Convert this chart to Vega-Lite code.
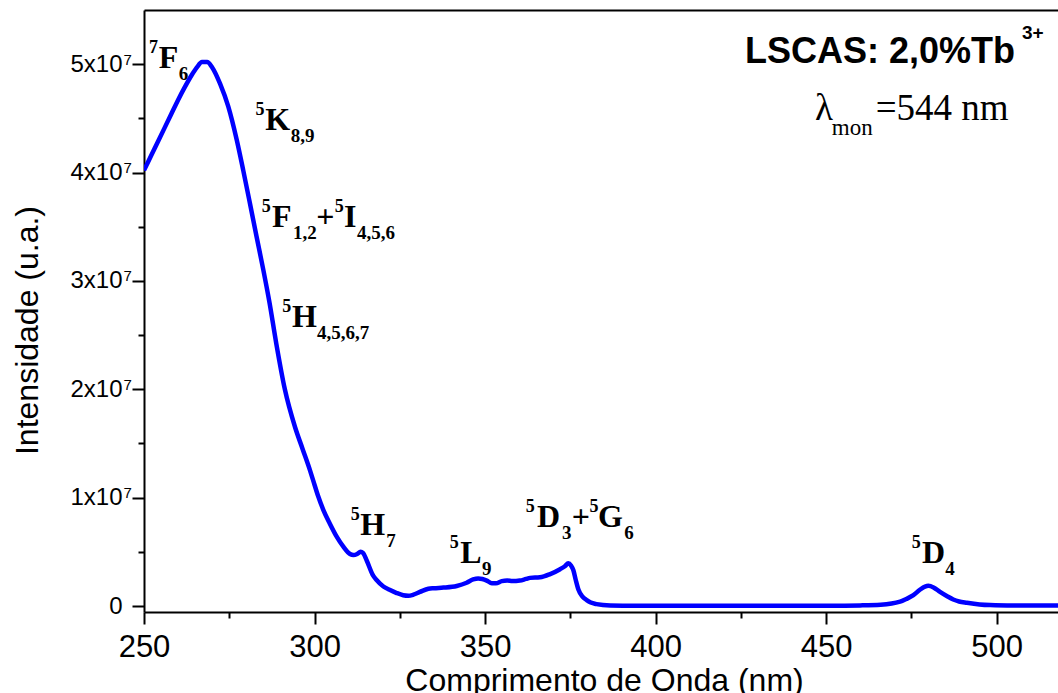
{
  "$schema": "https://vega.github.io/schema/vega-lite/v6.json",
  "width": 914,
  "height": 602,
  "autosize": "none",
  "padding": {"left": 144, "top": 10, "right": 0, "bottom": 81},
  "background": "white",
  "view": {"stroke": null},
  "config": {
    "axis": {
      "grid": false,
      "domainColor": "black",
      "domainWidth": 2,
      "tickColor": "black",
      "tickWidth": 2,
      "labelColor": "black",
      "titleColor": "black",
      "labelFont": "Liberation Sans",
      "titleFont": "Liberation Sans",
      "titleFontWeight": "normal",
      "labelFlush": false,
      "labelOverlap": false
    }
  },
  "datasets": {
    "curve": [
      {"wavelength": 250, "intensity": 40200000},
      {"wavelength": 252, "intensity": 41500000},
      {"wavelength": 254, "intensity": 42800000},
      {"wavelength": 256, "intensity": 44100000},
      {"wavelength": 258, "intensity": 45400000},
      {"wavelength": 260, "intensity": 46700000},
      {"wavelength": 262, "intensity": 47900000},
      {"wavelength": 264, "intensity": 49000000},
      {"wavelength": 265.5, "intensity": 49700000},
      {"wavelength": 267.0, "intensity": 50200000},
      {"wavelength": 268.5, "intensity": 50200000},
      {"wavelength": 270.0, "intensity": 49700000},
      {"wavelength": 272.3, "intensity": 48200000},
      {"wavelength": 274.7, "intensity": 46100000},
      {"wavelength": 277.2, "intensity": 43000000},
      {"wavelength": 279.1, "intensity": 40200000},
      {"wavelength": 281.1, "intensity": 37100000},
      {"wavelength": 283.0, "intensity": 34100000},
      {"wavelength": 285.0, "intensity": 31000000},
      {"wavelength": 286.8, "intensity": 28000000},
      {"wavelength": 288.8, "intensity": 24200000},
      {"wavelength": 291.3, "intensity": 20000000},
      {"wavelength": 294.3, "intensity": 16500000},
      {"wavelength": 296.5, "intensity": 14500000},
      {"wavelength": 298.7, "intensity": 12500000},
      {"wavelength": 299.6, "intensity": 11600000},
      {"wavelength": 301.0, "intensity": 10200000},
      {"wavelength": 302.6, "intensity": 8860000},
      {"wavelength": 304.5, "intensity": 7600000},
      {"wavelength": 306.5, "intensity": 6400000},
      {"wavelength": 308.4, "intensity": 5500000},
      {"wavelength": 310.4, "intensity": 4800000},
      {"wavelength": 311.4, "intensity": 4700000},
      {"wavelength": 312.5, "intensity": 4800000},
      {"wavelength": 313.5, "intensity": 5000000},
      {"wavelength": 314.2, "intensity": 4900000},
      {"wavelength": 315.3, "intensity": 4200000},
      {"wavelength": 317.2, "intensity": 2800000},
      {"wavelength": 318.2, "intensity": 2400000},
      {"wavelength": 320.2, "intensity": 1800000},
      {"wavelength": 322.0, "intensity": 1500000},
      {"wavelength": 324.1, "intensity": 1200000},
      {"wavelength": 326.0, "intensity": 1000000},
      {"wavelength": 327.5, "intensity": 950000},
      {"wavelength": 329.0, "intensity": 1050000},
      {"wavelength": 330.9, "intensity": 1300000},
      {"wavelength": 333.4, "intensity": 1600000},
      {"wavelength": 335.0, "intensity": 1650000},
      {"wavelength": 337.8, "intensity": 1700000},
      {"wavelength": 341.7, "intensity": 1850000},
      {"wavelength": 344.6, "intensity": 2150000},
      {"wavelength": 346.5, "intensity": 2450000},
      {"wavelength": 348.0, "intensity": 2550000},
      {"wavelength": 349.2, "intensity": 2500000},
      {"wavelength": 350.5, "intensity": 2350000},
      {"wavelength": 352.0, "intensity": 2100000},
      {"wavelength": 353.2, "intensity": 2100000},
      {"wavelength": 354.9, "intensity": 2300000},
      {"wavelength": 356.5, "intensity": 2350000},
      {"wavelength": 358.0, "intensity": 2300000},
      {"wavelength": 360.2, "intensity": 2350000},
      {"wavelength": 362.0, "intensity": 2500000},
      {"wavelength": 363.2, "intensity": 2600000},
      {"wavelength": 366.1, "intensity": 2650000},
      {"wavelength": 369.1, "intensity": 2950000},
      {"wavelength": 372.0, "intensity": 3400000},
      {"wavelength": 373.5, "intensity": 3700000},
      {"wavelength": 374.4, "intensity": 3950000},
      {"wavelength": 375.2, "intensity": 3750000},
      {"wavelength": 375.9, "intensity": 3300000},
      {"wavelength": 376.6, "intensity": 2400000},
      {"wavelength": 377.4, "intensity": 1500000},
      {"wavelength": 378.5, "intensity": 900000},
      {"wavelength": 379.8, "intensity": 550000},
      {"wavelength": 381.0, "intensity": 320000},
      {"wavelength": 382.7, "intensity": 180000},
      {"wavelength": 386.7, "intensity": 60000},
      {"wavelength": 395.0, "intensity": 30000},
      {"wavelength": 410.0, "intensity": 20000},
      {"wavelength": 430.0, "intensity": 20000},
      {"wavelength": 450.0, "intensity": 30000},
      {"wavelength": 460.0, "intensity": 60000},
      {"wavelength": 466.0, "intensity": 120000},
      {"wavelength": 471.7, "intensity": 400000},
      {"wavelength": 473.5, "intensity": 650000},
      {"wavelength": 475.6, "intensity": 1000000},
      {"wavelength": 477.5, "intensity": 1500000},
      {"wavelength": 479.0, "intensity": 1800000},
      {"wavelength": 480.0, "intensity": 1870000},
      {"wavelength": 481.5, "intensity": 1720000},
      {"wavelength": 483.4, "intensity": 1300000},
      {"wavelength": 485.5, "intensity": 900000},
      {"wavelength": 487.3, "intensity": 600000},
      {"wavelength": 489.0, "intensity": 420000},
      {"wavelength": 491.3, "intensity": 300000},
      {"wavelength": 495.0, "intensity": 150000},
      {"wavelength": 498.1, "intensity": 90000},
      {"wavelength": 505.0, "intensity": 50000},
      {"wavelength": 518.0, "intensity": 40000}
    ],
    "labels": [
      {"grp": "term", "part": "sup", "text": "7", "wavelength": 251.5, "intensity": 49645000},
      {"grp": "term", "part": "main", "text": "F", "wavelength": 254.31, "intensity": 49645000},
      {"grp": "term", "part": "sub", "text": "6", "wavelength": 260.17, "intensity": 49645000},

      {"grp": "term", "part": "sup", "text": "5", "wavelength": 282.73, "intensity": 43923000},
      {"grp": "term", "part": "main", "text": "K", "wavelength": 285.58, "intensity": 43923000},
      {"grp": "term", "part": "sub", "text": "8,9", "wavelength": 293.06, "intensity": 43923000},

      {"grp": "term", "part": "sup", "text": "5", "wavelength": 284.51, "intensity": 35000000},
      {"grp": "term", "part": "main", "text": "F", "wavelength": 287.54, "intensity": 35000000},
      {"grp": "term", "part": "sub", "text": "1,2", "wavelength": 293.70, "intensity": 35000000},
      {"grp": "term", "part": "main", "text": "+", "wavelength": 300.53, "intensity": 35000000},
      {"grp": "term", "part": "sup", "text": "5", "wavelength": 305.95, "intensity": 35000000},
      {"grp": "term", "part": "main", "text": "I", "wavelength": 308.65, "intensity": 35000000},
      {"grp": "term", "part": "sub", "text": "4,5,6", "wavelength": 312.45, "intensity": 35000000},

      {"grp": "term", "part": "sup", "text": "5", "wavelength": 290.55, "intensity": 25773000},
      {"grp": "term", "part": "main", "text": "H", "wavelength": 293.41, "intensity": 25773000},
      {"grp": "term", "part": "sub", "text": "4,5,6,7", "wavelength": 300.74, "intensity": 25773000},

      {"grp": "term", "part": "sup", "text": "5", "wavelength": 310.60, "intensity": 6552000},
      {"grp": "term", "part": "main", "text": "H", "wavelength": 313.44, "intensity": 6552000},
      {"grp": "term", "part": "sub", "text": "7", "wavelength": 321.06, "intensity": 6552000},

      {"grp": "term", "part": "sup", "text": "5", "wavelength": 339.63, "intensity": 3940000},
      {"grp": "term", "part": "main", "text": "L", "wavelength": 342.76, "intensity": 3940000},
      {"grp": "term", "part": "sub", "text": "9", "wavelength": 349.12, "intensity": 3940000},

      {"grp": "term", "part": "sup", "text": "5", "wavelength": 361.91, "intensity": 7318000},
      {"grp": "term", "part": "main", "text": "D", "wavelength": 365.24, "intensity": 7318000},
      {"grp": "term", "part": "sub", "text": "3", "wavelength": 372.57, "intensity": 7318000},
      {"grp": "term", "part": "main", "text": "+", "wavelength": 375.45, "intensity": 7318000},
      {"grp": "term", "part": "sup", "text": "5", "wavelength": 380.65, "intensity": 7318000},
      {"grp": "term", "part": "main", "text": "G", "wavelength": 383.15, "intensity": 7318000},
      {"grp": "term", "part": "sub", "text": "6", "wavelength": 390.8, "intensity": 7318000},

      {"grp": "term", "part": "sup", "text": "5", "wavelength": 475.10, "intensity": 3940000},
      {"grp": "term", "part": "main", "text": "D", "wavelength": 478.14, "intensity": 3940000},
      {"grp": "term", "part": "sub", "text": "4", "wavelength": 484.97, "intensity": 3940000},

      {"grp": "sample", "part": "main", "text": "LSCAS: 2,0%Tb", "wavelength": 426.23, "intensity": 50106000},
      {"grp": "sample", "part": "sup", "text": "3+", "wavelength": 507.45, "intensity": 50106000},

      {"grp": "monitor", "part": "main", "text": "λ", "wavelength": 446.76, "intensity": 44846000},
      {"grp": "monitor", "part": "sub", "text": "mon", "wavelength": 451.66, "intensity": 44846000},
      {"grp": "monitor", "part": "main", "text": "=544 nm", "wavelength": 464.56, "intensity": 44846000}
    ]
  },
  "layer": [
    {
      "data": {"name": "curve"},
      "mark": {"type": "line", "color": "#0000ff", "strokeWidth": 4.5, "interpolate": "monotone", "clip": true},
      "encoding": {
        "x": {
          "field": "wavelength", "type": "quantitative",
          "scale": {"domain": [250, 518], "nice": false, "zero": false},
          "axis": {
            "orient": "bottom",
            "values": [250, 300, 350, 400, 450, 500],
            "tickSize": 12,
            "labelFontSize": 31,
            "labelPadding": 8,
            "title": "Comprimento de Onda (nm)",
            "titleFontSize": 32,
            "titleX": 460,
            "titleY": 78,
            "titleAlign": "center",
            "titleBaseline": "alphabetic"
          }
        },
        "y": {
          "field": "intensity", "type": "quantitative",
          "scale": {"domain": [-550000, 55000000], "nice": false, "zero": false},
          "axis": {
            "orient": "left",
            "values": [0, 10000000, 20000000, 30000000, 40000000, 50000000],
            "tickSize": 12,
            "labelFontSize": 24,
            "labelPadding": 10,
            "labelBaseline": "middle",
            "labelDy": 2,
            "labelExpr": "datum.value == 0 ? '0' : format(datum.value / 10000000, 'd') + 'x10'",
            "title": "Intensidade (u.a.)",
            "titleFontSize": 32,
            "titleAngle": 270,
            "titleX": -107,
            "titleY": 320,
            "titleAlign": "center",
            "titleBaseline": "alphabetic"
          }
        }
      }
    },
    {
      "data": {"name": "labels"},
      "transform": [{"filter": "datum.grp == 'term' && datum.part == 'main'"}],
      "mark": {"type": "text", "font": "Liberation Serif", "fontWeight": "bold", "fontSize": 32, "align": "left", "baseline": "alphabetic", "color": "black"},
      "encoding": {
        "x": {"field": "wavelength", "type": "quantitative",
          "axis": {"orient": "bottom", "values": [275, 325, 375, 425, 475], "tickSize": 6, "labels": false, "domain": false, "title": null}},
        "y": {"field": "intensity", "type": "quantitative",
          "axis": {"orient": "left", "values": [5000000, 15000000, 25000000, 35000000, 45000000], "tickSize": 6, "labels": false, "domain": false, "title": null}},
        "text": {"field": "text"}
      }
    },
    {
      "data": {"name": "labels"},
      "transform": [{"filter": "datum.grp == 'term' && datum.part == 'sup'"}],
      "mark": {"type": "text", "font": "Liberation Serif", "fontWeight": "bold", "fontSize": 18, "align": "left", "baseline": "alphabetic", "dy": -15, "color": "black"},
      "encoding": {
        "x": {"field": "wavelength", "type": "quantitative",
          "axis": {"orient": "top", "ticks": false, "labels": false, "domain": true, "title": null}},
        "y": {"field": "intensity", "type": "quantitative",
          "axis": {"orient": "left", "values": [10000000, 20000000, 30000000, 40000000, 50000000], "ticks": false, "domain": false, "labelExpr": "'7'", "labelAlign": "left", "labelPadding": 21, "labelFontSize": 15, "labelBaseline": "alphabetic", "labelDy": 1, "title": null}},
        "text": {"field": "text"}
      }
    },
    {
      "data": {"name": "labels"},
      "transform": [{"filter": "datum.grp == 'term' && datum.part == 'sub'"}],
      "mark": {"type": "text", "font": "Liberation Serif", "fontWeight": "bold", "fontSize": 19, "align": "left", "baseline": "alphabetic", "dy": 12, "color": "black"},
      "encoding": {
        "x": {"field": "wavelength", "type": "quantitative", "axis": null},
        "y": {"field": "intensity", "type": "quantitative", "axis": null},
        "text": {"field": "text"}
      }
    },
    {
      "data": {"name": "labels"},
      "transform": [{"filter": "datum.grp == 'sample' && datum.part == 'main'"}],
      "mark": {"type": "text", "font": "Liberation Sans", "fontWeight": "bold", "fontSize": 36, "align": "left", "baseline": "alphabetic", "color": "black"},
      "encoding": {
        "x": {"field": "wavelength", "type": "quantitative", "axis": null},
        "y": {"field": "intensity", "type": "quantitative", "axis": null},
        "text": {"field": "text"}
      }
    },
    {
      "data": {"name": "labels"},
      "transform": [{"filter": "datum.grp == 'sample' && datum.part == 'sup'"}],
      "mark": {"type": "text", "font": "Liberation Sans", "fontWeight": "bold", "fontSize": 19, "align": "left", "baseline": "alphabetic", "dy": -24, "color": "black"},
      "encoding": {
        "x": {"field": "wavelength", "type": "quantitative", "axis": null},
        "y": {"field": "intensity", "type": "quantitative", "axis": null},
        "text": {"field": "text"}
      }
    },
    {
      "data": {"name": "labels"},
      "transform": [{"filter": "datum.grp == 'monitor' && datum.part == 'main'"}],
      "mark": {"type": "text", "font": "Liberation Serif", "fontSize": 37, "align": "left", "baseline": "alphabetic", "color": "black"},
      "encoding": {
        "x": {"field": "wavelength", "type": "quantitative", "axis": null},
        "y": {"field": "intensity", "type": "quantitative", "axis": null},
        "text": {"field": "text"}
      }
    },
    {
      "data": {"name": "labels"},
      "transform": [{"filter": "datum.grp == 'monitor' && datum.part == 'sub'"}],
      "mark": {"type": "text", "font": "Liberation Serif", "fontSize": 23, "align": "left", "baseline": "alphabetic", "dy": 15, "color": "black"},
      "encoding": {
        "x": {"field": "wavelength", "type": "quantitative", "axis": null},
        "y": {"field": "intensity", "type": "quantitative", "axis": null},
        "text": {"field": "text"}
      }
    }
  ],
  "resolve": {"axis": {"x": "independent", "y": "independent"}}
}
